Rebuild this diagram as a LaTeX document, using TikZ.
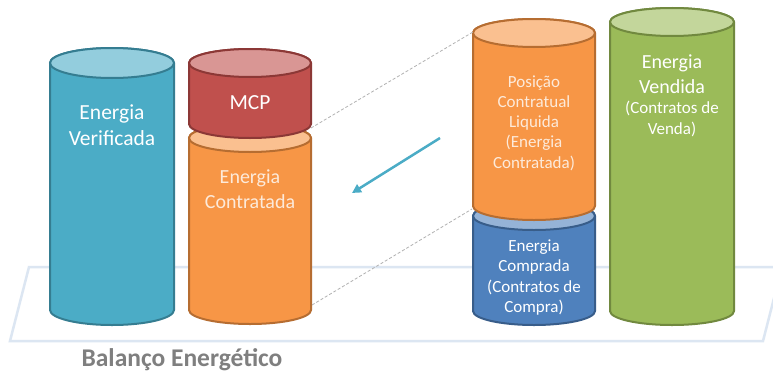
\documentclass[tikz,border=0pt]{standalone}
\usepackage{fontspec}
\setmainfont{Carlito}
\usetikzlibrary{arrows.meta}
\definecolor{cBlueA}{HTML}{4BACC6}\definecolor{cBlueAt}{HTML}{93CDDD}\definecolor{cBlueAd}{HTML}{357D91}
\definecolor{cRed}{HTML}{C0504D}\definecolor{cRedt}{HTML}{D99694}\definecolor{cRedd}{HTML}{8C3836}
\definecolor{cOr}{HTML}{F79646}\definecolor{cOrt}{HTML}{FAC090}\definecolor{cOrd}{HTML}{B66D31}
\definecolor{cBlueB}{HTML}{4F81BD}\definecolor{cBlueBt}{HTML}{95B3D7}\definecolor{cBlueBd}{HTML}{385D8A}
\definecolor{cGr}{HTML}{9BBB59}\definecolor{cGrt}{HTML}{C3D69B}\definecolor{cGrd}{HTML}{71893F}
\definecolor{cPlat}{HTML}{DCE6F2}\definecolor{cLab}{HTML}{7F7F7F}\definecolor{cCream}{HTML}{FDEADA}
\newcommand\drawcyl[8]{%
  \draw[line width=2pt, draw=#8, fill=#6] ({#1-#2},{376-(#3)}) -- ({#1-#2},{376-(#4)})
    arc[start angle=180,end angle=360,x radius=#2,y radius=#5] -- ({#1+#2},{376-(#3)})
    arc[start angle=0,end angle=180,x radius=#2,y radius=#5] -- cycle;
  \draw[line width=2pt, draw=#8, fill=#7] (#1,{376-(#3)}) ellipse[x radius=#2, y radius=#5];
}
\begin{document}
\begin{tikzpicture}[x=1pt,y=1pt,
  bigtxt/.style={text=white, align=center, font=\fontsize{21.5}{26}\selectfont},
  midtxt/.style={text=white, align=center, font=\fontsize{20}{25}\selectfont},
  smalltxt/.style={text=white, align=center, font=\fontsize{17}{20.3}\selectfont},
  guide/.style={draw=gray!60, line width=0.8pt, dash pattern=on 3pt off 2pt},
  plat/.style={draw=cPlat, line width=2.5pt}]
\useasboundingbox[fill=white] (0,0) rectangle (773,376);
% platform
\coordinate (p1) at (29,{376-267});
\coordinate (p2) at (782,{376-267});
\coordinate (p3) at (763,{376-341});
\coordinate (p4) at (10,{376-341});
\draw[plat] (p1) -- (p2) -- (p3) -- (p4) -- cycle;
% cylinders
\drawcyl{112}{62}{63}{310}{15}{cBlueA}{cBlueAt}{cBlueAd}
\drawcyl{250}{61}{138}{310}{14}{cOr}{cOrt}{cOrd}
\drawcyl{250}{61}{63}{124}{14}{cRed}{cRedt}{cRedd}
\drawcyl{534}{61}{216}{311}{14}{cBlueB}{cBlueBt}{cBlueBd}
\drawcyl{534}{61}{33}{206}{14}{cOr}{cOrt}{cOrd}
\drawcyl{672}{62}{22}{311}{14}{cGr}{cGrt}{cGrd}
% texts
\node[bigtxt] (ver) at (112,{376-125}) {Energia\\Verificada};
\node[bigtxt] (mcp) at (250,{376-103}) {MCP};
\node[midtxt, text=cCream] (con) at (250,{376-189.5}) {Energia\\Contratada};
\node[smalltxt, text=cCream] (pos) at (534,{376-123}) {Posição\\Contratual\\Liquida\\(Energia\\Contratada)};
\node[smalltxt] (comp) at (534,{376-277.5}) {Energia\\Comprada\\(Contratos de\\Compra)};
\node[midtxt] (vend) at (672,{376-74.5}) {Energia\\Vendida};
\node[smalltxt] (vendc) at (672,{376-119}) {(Contratos de\\Venda)};
\node[text=cLab, font=\fontsize{25.5}{30}\selectfont\bfseries] (bal) at (182,{376-360}) {Balanço Energético};
% guides
\coordinate (mcpBR) at (311,{376-128});
\coordinate (posTL) at (473,{376-32});
\coordinate (conBR) at (312,{376-305});
\coordinate (posBL) at (472,{376-209});
\draw[guide] (mcpBR) -- (posTL);
\draw[guide] (conBR) -- (posBL);
% arrow
\coordinate (arS) at (440,{376-138});
\coordinate (arE) at (352,{376-193});
\draw[cBlueA, line width=2.5pt, -{Triangle[length=9pt,width=9pt]}] (arS) -- (arE);
\end{tikzpicture}
\end{document}
